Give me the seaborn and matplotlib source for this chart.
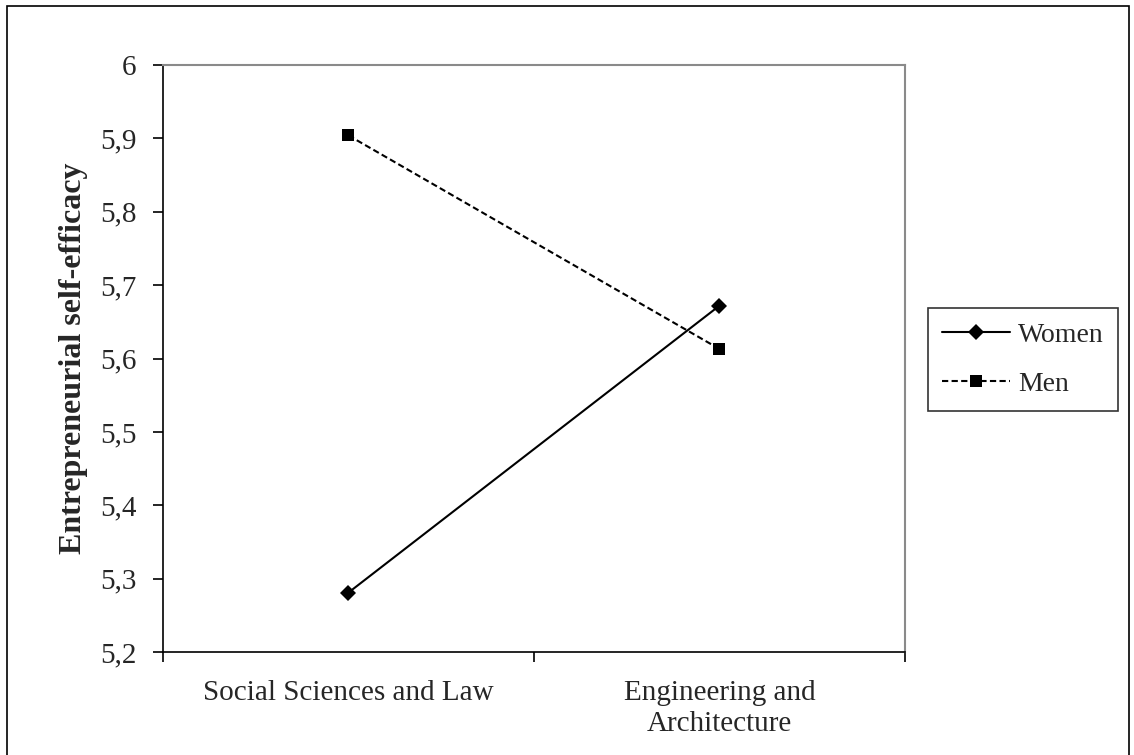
import pandas as pd
import seaborn as sns
import matplotlib.pyplot as plt
from matplotlib.patches import Rectangle

# data
fields = ["Social Sciences and Law", "Engineering and\nArchitecture"]
women = [5.281, 5.672]
men = [5.904, 5.613]
y_ticks = [5.2, 5.3, 5.4, 5.5, 5.6, 5.7, 5.8, 5.9, 6.0]
y_tick_labels = ["5,2", "5,3", "5,4", "5,5", "5,6", "5,7", "5,8", "5,9", "6"]

df = pd.DataFrame({
    "Field": fields * 2,
    "ESE": women + men,
    "Gender": ["Women"] * 2 + ["Men"] * 2,
})
df["pos"] = [0, 1, 0, 1]

sns.set_style("white")
plt.rcParams["font.family"] = ["Liberation Serif", "DejaVu Serif"]

fig = plt.figure(figsize=(11.34, 7.55), dpi=100)
ax = fig.add_axes([0.1437, 0.1364, 0.798 - 0.1437, 0.9139 - 0.1364])

sns.lineplot(data=df, x="pos", y="ESE", hue="Gender", style="Gender",
             palette={"Women": "black", "Men": "black"},
             markers={"Women": "D", "Men": "s"},
             dashes={"Women": "", "Men": (3, 1.6)},
             markersize=8, linewidth=1.5, markeredgewidth=0,
             ax=ax, legend="full")

ax.set_xlim(-0.5, 1.5)
ax.set_ylim(5.2, 6.0)
ax.set_yticks(y_ticks)
ax.set_yticklabels(y_tick_labels, fontsize=21)
ax.set_xticks([-0.5, 0.5, 1.5])
ax.set_xticklabels([])
ax.set_xticks([0, 1], minor=True)
ax.set_xticklabels(fields, minor=True, fontsize=21, linespacing=1.25)
ax.tick_params(axis="x", which="minor", length=0, pad=20)
ax.tick_params(axis="both", which="major", direction="out", length=7, width=1.2,
               color="black", left=True, bottom=True)
ax.tick_params(axis="y", pad=12)
ax.set_xlabel("")
ax.set_ylabel("Entrepreneurial self-efficacy", fontsize=23, fontweight="bold", labelpad=9)

for s in ["left", "bottom"]:
    ax.spines[s].set_color("black")
    ax.spines[s].set_linewidth(1.2)
for s in ["top", "right"]:
    ax.spines[s].set_color("#8a8a8a")
    ax.spines[s].set_linewidth(1.5)

handles, labels = ax.get_legend_handles_labels()
ax.legend(handles, labels, loc="center left", bbox_to_anchor=(0.818, 0.5238),
          bbox_transform=fig.transFigure, borderaxespad=0, fontsize=20,
          frameon=True, fancybox=False, edgecolor="black", handlelength=2.45,
          handletextpad=0.3, labelspacing=0.85, borderpad=0.5)
ax.get_legend().get_frame().set_linewidth(1.2)

fig.patches.append(Rectangle((0.006, -0.01), 0.99, 1.002, transform=fig.transFigure,
                             fill=False, edgecolor="black", linewidth=1.2))

fig.savefig("out.png", dpi=100)
